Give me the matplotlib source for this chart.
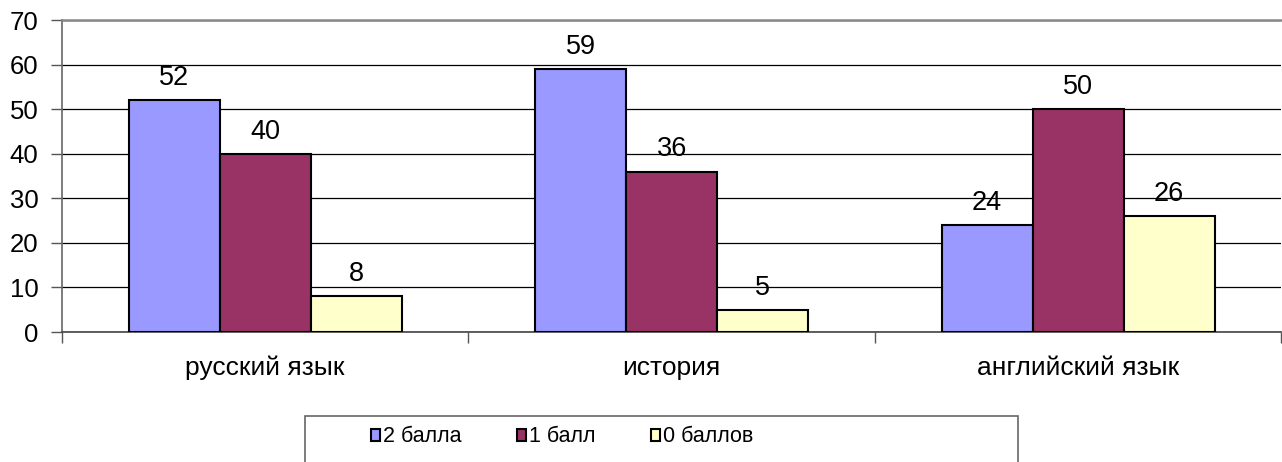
import matplotlib
matplotlib.use("Agg")
import matplotlib.pyplot as plt
import numpy as np
from matplotlib.patches import Patch, Rectangle

plt.rcParams['font.family'] = ['Liberation Sans', 'DejaVu Sans']

categories = ["русский язык", "история", "английский язык"]
series_names = ["2 балла", "1 балл", "0 баллов"]
vals_2 = [52, 59, 24]
vals_1 = [40, 36, 50]
vals_0 = [8, 5, 26]
colors = ["#9999FF", "#993366", "#FFFFCC"]
yticks = [0, 10, 20, 30, 40, 50, 60, 70]

fig = plt.figure(figsize=(12.82, 4.62), dpi=100)
ax = fig.add_axes([62/1282, 1-332/462, 1-62/1282 - 0.0005, (332-20)/462])

x = np.arange(len(categories))
w = 0.224
for i, (vals, c) in enumerate(zip([vals_2, vals_1, vals_0], colors)):
    pos = x + (i - 1) * w
    bars = ax.bar(pos, vals, width=w, color=c, edgecolor="black", linewidth=1.5, zorder=3)
    for b, v in zip(bars, vals):
        ax.text(b.get_x() + b.get_width()/2, v + 3.4, str(v), ha="center", va="baseline",
                fontsize=19.5, zorder=4)

ax.set_xlim(-0.5, len(categories) - 0.5)
ax.set_ylim(0, 70)
ax.set_yticks(yticks)
ax.set_yticklabels([str(t) for t in yticks], fontsize=18.5)
ax.set_xticks(x)
ax.set_xticklabels(categories, fontsize=19)
ax.tick_params(axis="x", which="major", length=0, pad=17)
ax.set_xticks(np.arange(-0.5, len(categories), 1.0), minor=True)
ax.tick_params(axis="x", which="minor", length=8, width=1, color="#555555", direction="out")
ax.tick_params(axis="y", length=8, width=1, color="#555555", direction="out", pad=9)

ax.yaxis.grid(True, color="black", linewidth=0.9, zorder=0)
ax.set_axisbelow(True)
ax.spines["right"].set_visible(False)
ax.spines["top"].set_color("#888888")
ax.spines["top"].set_linewidth(1.8)
ax.spines["left"].set_color("#666666")
ax.spines["left"].set_linewidth(1.2)
ax.spines["bottom"].set_color("#444444")
ax.spines["bottom"].set_linewidth(1.2)

# legend frame (extends beyond the bottom edge)
frame = Rectangle((305/1282, -0.05), (1018-305)/1282, 1-416/462 + 0.05,
                  transform=fig.transFigure, facecolor="white", edgecolor="#666666",
                  linewidth=1.2, zorder=1)
fig.patches.append(frame)

handles = [Patch(facecolor=c, edgecolor="black", linewidth=1.5) for c in colors]
leg = fig.legend(handles, series_names, loc="center",
                 bbox_to_anchor=(562/1282, 1-437/462),
                 ncol=3, fontsize=15.5, frameon=False,
                 handlelength=0.42, handleheight=0.5, handletextpad=0.12,
                 columnspacing=2.6, borderaxespad=0, borderpad=0)

fig.savefig("out.png", dpi=100)
